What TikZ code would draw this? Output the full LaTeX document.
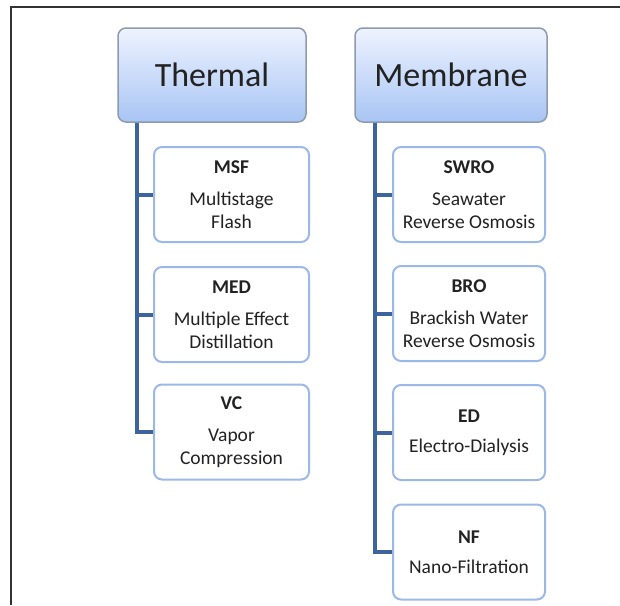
\documentclass[tikz,border=0pt]{standalone}
\usepackage{fontspec}
\setmainfont{Carlito}
\definecolor{hdrtop}{HTML}{EEF3FF}
\definecolor{hdrbot}{HTML}{A8C5F4}
\definecolor{hdredge}{HTML}{8E9AAE}
\definecolor{boxedge}{HTML}{9BB8E6}
\definecolor{trunk}{HTML}{3E649E}
\definecolor{ink}{HTML}{222222}
\definecolor{frame}{HTML}{333333}
\tikzset{
  header/.style={draw=hdredge, line width=1.5pt, rounded corners=8pt,
    top color=hdrtop, bottom color=hdrbot, text=ink,
    font=\fontsize{34}{40}\selectfont, inner sep=0pt},
  item/.style={draw=boxedge, line width=2pt, rounded corners=8pt, fill=white,
    text=ink, align=center, font=\fontsize{19.5}{22.5}\selectfont, inner sep=0pt},
  conn/.style={draw=trunk, line width=4pt},
  border/.style={draw=frame, line width=2pt}
}
\begin{document}
\begin{tikzpicture}[x=1pt, y=-1pt]
\useasboundingbox (0,0) rectangle (620,605);

% page frame (top and left edges)
\coordinate (ftop) at (620,7);
\coordinate (fcorner) at (11,7);
\coordinate (fbot) at (11,605);
\draw[border] (ftop) -- (fcorner) -- (fbot);

% category headers
\node[header, minimum width=188pt, minimum height=94pt] (th) at (212,75) {Thermal};
\node[header, minimum width=192pt, minimum height=94pt] (mb) at (451,75) {Membrane};

% thermal processes
\node[item, minimum width=155pt, minimum height=95pt] (msf) at (231.5,194.5)
  {\textbf{MSF}\\[10pt]Multistage\\Flash};
\node[item, minimum width=155pt, minimum height=95pt] (med) at (231.5,314.5)
  {\textbf{MED}\\[10pt]Multiple Effect\\Distillation};
\node[item, minimum width=155pt, minimum height=95pt] (vc) at (231.5,432)
  {\textbf{VC}\\[10pt]Vapor\\Compression};

% membrane processes
\node[item, minimum width=152pt, minimum height=95pt] (swro) at (469,194.5)
  {\textbf{SWRO}\\[10pt]Seawater\\Reverse Osmosis};
\node[item, minimum width=152pt, minimum height=95pt] (bro) at (469,313.5)
  {\textbf{BRO}\\[10pt]Brackish Water\\Reverse Osmosis};
\node[item, minimum width=152pt, minimum height=95pt] (ed) at (469,432.5)
  {\textbf{ED}\\[8pt]Electro-Dialysis};
\node[item, minimum width=152pt, minimum height=95pt] (nf) at (469,552)
  {\textbf{NF}\\[8pt]Nano-Filtration};

% trunk lines
\coordinate (thx) at (137,0);
\coordinate (mbx) at (375,0);
\draw[conn] (th.south -| thx) |- (msf.west);
\draw[conn] (th.south -| thx) |- (med.west);
\draw[conn] (th.south -| thx) |- (vc.west);
\draw[conn] (mb.south -| mbx) |- (swro.west);
\draw[conn] (mb.south -| mbx) |- (bro.west);
\draw[conn] (mb.south -| mbx) |- (ed.west);
\draw[conn] (mb.south -| mbx) |- (nf.west);
\end{tikzpicture}
\end{document}
